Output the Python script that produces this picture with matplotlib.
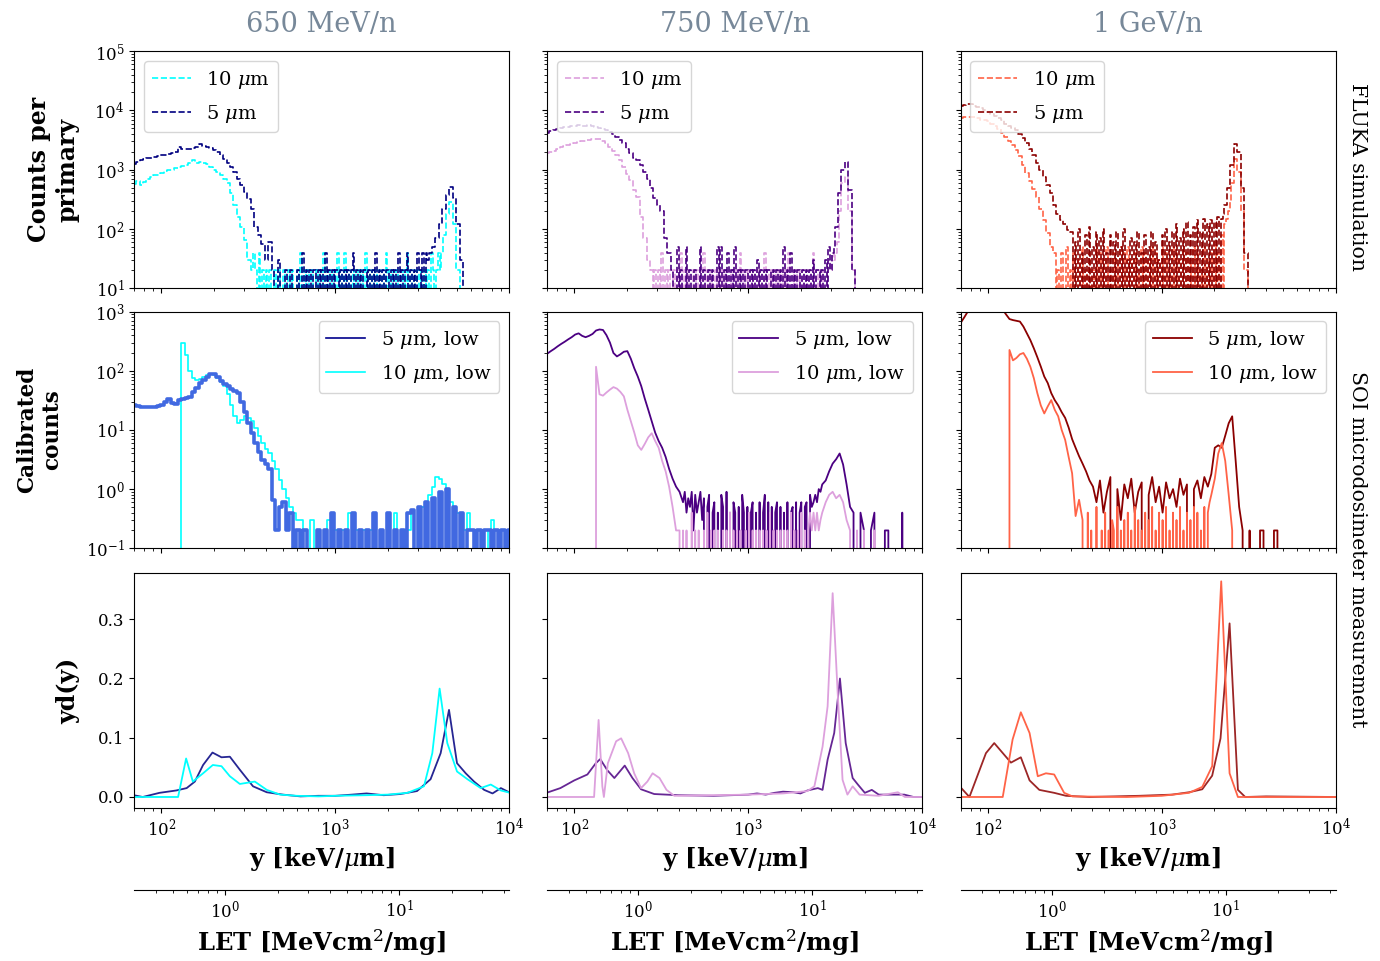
import numpy as np
import matplotlib
matplotlib.use('Agg')
import matplotlib.pyplot as plt
from matplotlib.lines import Line2D

plt.rcParams['font.family'] = 'DejaVu Serif'
plt.rcParams['mathtext.fontset'] = 'dejavuserif'

# histogram bins: log10 spacing, first bin centre at 70 keV/um
# coarse bins for the smooth parts, fine bins for the noisy single-count floors
Y0 = 70.0
COARSE = 0.02
FINE = 0.01
KEV_UM_PER_LET = 233.0   # 1 MeVcm2/mg in silicon ~ 233 keV/um

energies = ['650 MeV/n', '750 MeV/n', '1 GeV/n']
col_5um = ['navy', 'indigo', 'darkred']
col_10um = ['cyan', 'plum', 'tomato']

# ---------------- FLUKA simulation (counts per primary) ----------------
fluka_650_10_head = [580, 650, 560, 620, 700, 750, 800, 820, 880, 950,
                     1000, 980, 1050, 1100, 1150, 1200, 1300, 1450, 1300, 1350,
                     1300, 1250, 1100, 1000, 900, 800, 700, 600, 400, 250,
                     160, 110, 65, 30]
fluka_650_10_floor = [20, 40, 20, 0, 40, 0, 20, 0, 20, 0,
                      20, 0, 0, 20, 0, 20, 0, 0, 20, 0,
                      0, 20, 0, 20, 0, 0, 20, 0, 40, 0,
                      20, 0, 20, 0, 20, 0, 0, 20, 0, 20,
                      0, 40, 0, 20, 0, 20, 0, 20, 0, 40,
                      0, 20, 0, 40, 0, 20, 0, 20, 0, 20,
                      0, 20, 0, 20, 0, 40, 0, 20, 0, 20,
                      0, 20, 0, 20, 0, 20, 0, 40, 0, 20,
                      0, 20, 0, 20, 0, 20, 0, 20, 0, 40,
                      0, 20, 0, 20, 0, 20, 0, 20, 0, 20,
                      0, 20, 0, 40, 20, 0, 20, 40, 20, 40]
fluka_650_10_peak = [80, 180, 290, 120, 20, 0]

fluka_650_5_head = [1260, 1350, 1450, 1500, 1550, 1600, 1650, 1700, 1750, 1800,
                    1850, 1900, 1950, 2400, 2200, 2200, 2250, 2300, 2400, 2700,
                    2500, 2400, 2300, 2150, 2000, 1800, 1500, 1300, 1100, 900,
                    700, 550, 420, 320, 220, 110, 80, 55, 30, 60]
fluka_650_5_floor = [20, 0, 0, 30, 0, 0, 0, 20, 0, 0, 20, 0, 0, 0, 20, 0, 0, 40, 0,
                     20, 0, 20, 0, 20, 20, 0, 20, 0, 20,
                     0, 40, 0, 20, 0, 20, 0, 20, 20, 0,
                     20, 0, 20, 0, 20, 0, 20, 40, 0, 20,
                     0, 20, 0, 20, 20, 0, 20, 0, 20, 0,
                     40, 0, 20, 0, 20, 0, 20, 20, 0, 20,
                     0, 20, 0, 40, 0, 20, 0, 20, 40, 0,
                     20, 0, 20, 0, 40, 20, 0, 40, 0, 40,
                     30]
fluka_650_5_peak = [40, 50, 70, 120, 220, 380, 520, 330, 120, 30, 0]

fluka_750_10_head = [1900, 2000, 2100, 2200, 2450, 2500, 2600, 2700, 2800, 2900,
                     3000, 3100, 3200, 3250, 3300, 3250, 3100, 2800, 2450, 2100,
                     1800, 1450, 1100, 850, 670, 450, 350, 160, 70, 30]
fluka_750_10_floor = [20, 0, 20, 0, 20, 0, 40, 0, 20, 0,
                      20, 0, 0, 20, 0, 20, 0, 40, 0, 20,
                      0, 20, 0, 0, 20, 0, 20, 0, 20, 0,
                      40, 0, 20, 0, 20, 0, 0, 20, 0, 20,
                      0, 20, 0, 20, 0, 20, 0, 20, 0, 20,
                      0, 40, 0, 20, 0, 20, 0, 20, 0, 20,
                      0, 20, 0, 20, 0, 40, 0, 20, 0, 20,
                      0, 20, 0, 20, 0, 20, 0, 20, 0, 40,
                      0, 20, 0, 20, 0, 20, 0, 20, 0, 20,
                      0, 20, 0, 40, 0, 20, 0, 20, 0, 20,
                      20, 0, 30, 20, 40, 30, 40, 60]
fluka_750_10_peak = [200, 600, 760, 200, 20, 0]

fluka_750_5_head = [4200, 4400, 4600, 4800, 5000, 5200, 5300, 5400, 5500, 5600,
                    5500, 5400, 5600, 5500, 5300, 5000, 4800, 4600, 4300, 4000,
                    3600, 3200, 2800, 2200, 1900, 1600, 1450, 1200, 900, 700,
                    500, 330, 250, 200, 70, 40]
fluka_750_5_floor = [20, 0, 0, 50, 0, 20, 0, 0, 50, 0,
                     20, 0, 0, 20, 0, 0, 50, 0, 20, 0,
                     0, 20, 0, 20, 0, 0, 50, 0,
                     50, 0, 20, 0, 40, 0, 20, 0, 50, 0,
                     20, 0, 20, 0, 20, 20, 0, 20, 0, 20,
                     0, 30, 0, 20, 0, 20, 0, 20, 20, 0,
                     20, 0, 20, 0, 20, 0, 50, 0, 20, 0,
                     40, 0, 20, 0, 20, 20, 0, 20, 0, 20,
                     0, 20, 0, 30, 0, 20, 20, 0, 20, 0,
                     30, 0, 50, 20, 40, 50]
fluka_750_5_peak = [110, 400, 1000, 1350, 450, 20, 0]

fluka_1gev_10_head = [7400, 7600, 7800, 7800, 7600, 7300, 7000, 6900, 6500, 6000,
                      5400, 4800, 4200, 3600, 3000, 2600, 2150, 1700, 1200, 870,
                      650, 480, 350, 220, 140, 85, 50]
fluka_1gev_10_floor = [40, 0, 20, 0, 40, 0, 0, 50, 0, 20,
                       0, 40, 0, 0, 30, 0, 50, 0, 20, 0,
                       40, 0, 20, 0, 50, 0, 40, 0, 30, 0,
                       50, 0, 20, 0, 40, 0, 30, 0, 50, 0,
                       40, 0, 50, 0, 30, 0, 40, 0, 20, 0,
                       50, 0, 40, 0, 30, 0, 50, 0, 40, 0,
                       30, 0, 50, 0, 40, 0, 20, 0, 50, 0,
                       40, 0, 30, 0, 50, 0, 40, 0, 30, 0,
                       50, 0, 40, 0, 20, 0, 50, 0, 30, 0,
                       40, 0, 60, 0, 40, 0, 80, 0, 120, 150,
                       200, 300]
fluka_1gev_10_peak = [600, 1500, 900, 200, 20, 0]

fluka_1gev_5_head = [11700, 12500, 13000, 12800, 12000, 11500, 11000, 10000, 9500, 8800,
                     8000, 7500, 6800, 6000, 5500, 5000, 4600, 4000, 3400, 2800,
                     2200, 1800, 1300, 1000, 750, 550, 400, 250, 180, 140, 120, 96]
fluka_1gev_5_floor = [90, 0, 60, 0, 100, 0, 40, 0, 80, 0,
                      110, 0, 50, 0, 90, 0, 70, 0, 100, 0,
                      40, 0, 80, 0, 60, 0, 90, 0, 50, 0,
                      100, 0, 30, 0, 70, 0, 60, 0, 90, 0,
                      40, 0, 80, 0, 50, 0, 90, 0, 60, 0,
                      30, 0, 80, 0, 100, 0, 60, 0, 90, 0,
                      120, 0, 70, 0, 100, 0, 130, 0, 80, 0,
                      110, 0, 140, 0, 90, 0, 150, 0, 120, 0,
                      140, 0, 130, 0, 160, 0, 150, 180]
fluka_1gev_5_peak = [250, 500, 1200, 2700, 2000, 500, 40, 0]

# ---------------- SOI microdosimeter (calibrated counts) ----------------
calib_650_5 = [26, 25, 24.5, 24, 24, 24, 24.5, 25, 26, 30,
               34, 29, 27.5, 32, 34, 35, 36, 44, 52, 61,
               70, 80, 88, 90, 78, 66, 60, 55, 50, 46,
               42, 30, 20, 13, 9, 6, 4.2, 3.1, 2.7, 2.2,
               0.66, 0.2, 0.5, 0.6, 0.2,
               0.4, 0, 0.2, 0, 0.2, 0, 0, 0, 0.2, 0, 0.2, 0, 0.4, 0, 0.2, 0, 0.2, 0,
               0.4, 0, 0.2, 0, 0.2, 0, 0.4, 0, 0.2, 0, 0.4, 0, 0.2, 0, 0.2, 0, 0.4,
               0.45, 0, 0.5, 0, 0.6, 0, 0.7, 0, 0.9, 0, 1.0, 0, 0.5, 0, 0.4, 0, 0.2,
               0.2, 0, 0.2, 0, 0.2, 0.2, 0, 0.2, 0, 0.2, 0, 0.2]
calib_650_10 = [0] * 14 + [
               293, 185, 100, 75, 70, 72, 78, 84, 88, 85,
               75, 65, 55, 40, 26, 17, 13, 15, 17, 16,
               14, 11, 8, 6, 4.8, 4, 3, 2.2, 1.4, 1.0,
               0.7, 0.5, 0.4, 0.3, 0.3,
               0.2, 0, 0.3, 0, 0.2, 0, 0.2, 0.3, 0, 0.2, 0, 0.2, 0, 0.4, 0, 0.2, 0,
               0.2, 0, 0.2, 0.4, 0, 0.2, 0, 0.2, 0, 0.4, 0, 0.2, 0, 0.2, 0.4, 0, 0.4,
               0.5, 0.6, 0.8, 1.1, 1.6, 1.5, 1.2, 0.7, 0.6, 0.4, 0.4, 0.3, 0.2, 0.4, 0.2,
               0, 0.2, 0, 0.2, 0, 0.3, 0, 0.2, 0, 0.2, 0.2]

calib_750_5_head = [195, 215, 235, 260, 285, 310, 340, 370, 410, 430,
                    390, 370, 390, 420, 480, 500, 490, 400, 300, 200,
                    175, 190, 210, 215, 160, 110, 80, 55, 34, 22,
                    14, 9, 6.5, 5, 3.5, 2.2, 1.5, 1.1, 0.9]
calib_750_5_floor = [0.6, 0.9, 0.4, 0.7, 0.5, 0.9, 0.2, 0.8, 0.4, 0.6,
                     0.9, 0.3, 0.7, 0, 0.5, 0.8, 0, 0.4, 0.6, 0,
                     0.4, 0, 0.8, 0.5, 0, 0.9, 0, 0.4, 0, 0.6,
                     0.4, 0, 0.5, 0, 0.8, 0.4, 0, 0.5, 0, 0.4,
                     0.6, 0, 0.4, 0, 0.6, 0, 0.4, 0.8, 0, 0.6,
                     0, 0.5, 0, 0.4, 0.6, 0, 0.5, 0, 0.4, 0,
                     0.6, 0, 0.4, 0.5, 0, 0.6, 0, 0.4, 0.6, 0,
                     0.5, 0.6, 0, 0.8, 0.5, 0.6, 0.8, 0.6, 1.0, 0.9]
calib_750_5_tail = [1.2, 1.4, 2.0, 2.7, 3.2, 4.0, 2.6, 1.2, 0.5,
                    0.4, 0, 0.4, 0.2, 0, 0.2, 0.4, 0, 0, 0.2, 0.2, 0, 0, 0, 0.4, 0, 0]

calib_750_10_head = [0] * 14 + [
                     117, 40, 38, 43, 48, 53, 50, 44, 37, 22,
                     14, 9, 5.5, 4.6, 5.8, 7.5, 8.8, 6.5, 5, 3,
                     2, 1.1, 0.5, 0.2]
calib_750_10_floor = [0.2, 0, 0.2, 0, 0.2, 0, 0, 0.4, 0, 0.2,
                      0, 0.2, 0, 0, 0.2, 0, 0.4, 0, 0.2, 0,
                      0.2, 0, 0.2, 0, 0, 0.2, 0, 0.2, 0, 0.4,
                      0, 0.2, 0, 0.2, 0, 0.2, 0, 0, 0.2, 0,
                      0.4, 0, 0.2, 0, 0.2, 0, 0.2, 0, 0.2, 0,
                      0.2, 0, 0.4, 0, 0.2, 0, 0.2, 0, 0.2, 0,
                      0.2, 0, 0.2, 0, 0.4, 0, 0.2, 0, 0.2, 0,
                      0.4, 0, 0.2, 0, 0.2, 0.4, 0.2, 0.4, 0.2, 0.4,
                      0.2, 0.3]
calib_750_10_tail = [0.4, 0.6, 0.8, 0.9, 0.7, 0.8, 0.6, 0.3, 0.2, 0,
                     0.2, 0, 0.2, 0, 0, 0.2, 0, 0]

calib_1gev_5 = [650, 800, 1000, 1200, 1400, 1500, 1500, 1450, 1400, 1300,
                1250, 1150, 1100, 900, 750, 720, 700, 680, 560, 430,
                330, 240, 170, 118, 80, 62, 42, 32, 26, 20,
                16, 11, 7, 5, 3.6, 2.7, 2.0, 1.4, 1.1,
                0.6, 1.4, 0.4, 0.9, 1.6, 0, 1.0, 0.3, 1.2, 0.7,
                1.5, 0.4, 0.9, 1.3, 0, 0.8, 1.6, 0.6, 1.1, 0.4,
                1.3, 0.7, 1.0, 0.5, 1.5, 0.8, 1.2, 0, 1.0, 1.4,
                0.7, 1.6, 1.1, 1.8,
                5, 5.5, 5, 8, 13, 17, 3, 0.5, 0.2, 0,
                0.2, 0, 0, 0.2, 0.2, 0, 0, 0.2, 0.2, 0]

calib_1gev_10_head = [0] * 14 + [
                      225, 150, 165, 190, 200, 160, 117, 75, 42, 26,
                      19, 25, 32, 22, 17, 10, 6.8, 3.5, 1.85, 0.35,
                      0.66, 0.3]
calib_1gev_10_floor = [0, 0.4, 0, 0.2, 0, 0, 0.5, 0, 0, 0.2,
                       0, 0.4, 0, 0.2, 0, 0.3, 0.2, 0, 0.5, 0,
                       0.2, 0, 0.3, 0, 0.4, 0, 0.2, 0, 0.5, 0,
                       0.3, 0, 0.2, 0, 0.4, 0, 0.3, 0, 0.5, 0,
                       0.2, 0, 0.4, 0, 0.3, 0, 0.5, 0, 0.2, 0,
                       0.4, 0, 0.3, 0, 0.5, 0, 0.2, 0, 0.4, 0,
                       0.3, 0, 0.5, 0, 0.4, 0, 0.2, 0, 0.5, 0,
                       0.4, 0.6]
calib_1gev_10_tail = [0.8, 1.5, 4, 6, 3, 0.8, 0.2, 0]

# ---------------- dose distributions yd(y) ----------------
yd_650_5_x = [69.5, 78.3, 97.7, 122, 140, 156, 174, 197, 222, 248, 283, 337, 404, 501,
              631, 800, 1000, 1250, 1514, 1900, 2371, 2951, 3532, 4036, 4508, 5012,
              5623, 6281, 7178, 8017, 8954, 10139]
yd_650_5 = [0.003, 0.0, 0.007, 0.011, 0.015, 0.026, 0.054, 0.075, 0.067, 0.068, 0.046,
            0.018, 0.008, 0.004, 0.001, 0.002, 0.002, 0.004, 0.006, 0.003, 0.005, 0.01,
            0.03, 0.074, 0.147, 0.057, 0.04, 0.026, 0.012, 0.006, 0.015, 0.007]
yd_650_10_x = [69.5, 125, 139, 152, 174, 198, 222, 248, 283, 345, 404, 482, 600, 800,
               1000, 1500, 2000, 2600, 3236, 3614, 3981, 4406, 5012, 5754, 6855, 7834,
               8954, 10139]
yd_650_10 = [0, 0, 0.065, 0.026, 0.04, 0.054, 0.052, 0.035, 0.022, 0.026, 0.012, 0.004,
             0.002, 0.001, 0.002, 0.003, 0.004, 0.007, 0.018, 0.074, 0.183, 0.091, 0.043,
             0.03, 0.015, 0.021, 0.011, 0.007]

yd_750_5_x = [70.8, 83.2, 100, 119, 133, 141, 155, 170, 195, 216, 242, 288, 398, 631,
              794, 1000, 1122, 1259, 1413, 1585, 1820, 1995, 2188, 2512, 2673, 2858, 3119,
              3365, 3631, 3981, 4266, 4677, 5129, 5623, 7889, 8913, 10139]
yd_750_5 = [0.008, 0.015, 0.028, 0.038, 0.057, 0.064, 0.045, 0.032, 0.053, 0.032, 0.013,
            0.005, 0.003, 0.002, 0.003, 0.004, 0.006, 0.004, 0.007, 0.009, 0.008, 0.006,
            0.011, 0.015, 0.012, 0.063, 0.108, 0.20, 0.091, 0.032, 0.021, 0.007, 0.012,
            0.004, 0.004, 0.0, 0.0]
yd_750_10_x = [70, 130, 138, 145, 148, 156, 174, 186, 204, 221, 242, 263, 282, 309, 339,
               376, 631, 1000, 1585, 2188, 2399, 2673, 2858, 3055, 3266, 3483, 3715, 3981,
               4365, 5623, 7244, 7943, 10139]
yd_750_10 = [0, 0, 0.13, 0.018, 0, 0.057, 0.094, 0.099, 0.074, 0.04, 0.015, 0.026, 0.04,
             0.032, 0.012, 0.002, 0.003, 0.004, 0.006, 0.01, 0.018, 0.085, 0.153, 0.344,
             0.175, 0.029, 0.004, 0.018, 0.004, 0.002, 0.008, 0, 0]

yd_1gev_5_x = [69.5, 78.5, 97.7, 109, 136, 155, 174, 198, 241, 282, 383, 741, 1148, 1436,
               1710, 1950, 2178, 2455, 2742, 3020, 3981, 10139]
yd_1gev_5 = [0.017, 0.0, 0.074, 0.091, 0.058, 0.067, 0.028, 0.012, 0.007, 0.002, 0.0,
             0.002, 0.004, 0.008, 0.013, 0.036, 0.099, 0.293, 0.012, 0.0, 0.001, 0.0]
yd_1gev_10_x = [69.5, 122, 139, 155, 174, 194, 216, 241, 275, 307, 631, 1000, 1436, 1710,
                1950, 2198, 2455, 2742, 10139]
yd_1gev_10 = [0, 0, 0.097, 0.143, 0.108, 0.035, 0.04, 0.038, 0.007, 0.001, 0.0, 0.002,
              0.007, 0.017, 0.052, 0.364, 0.04, 0, 0]


def binned(*parts):
    """Lay consecutive (values, bin step) parts on the log grid starting at Y0."""
    xs, ys = [], []
    pos = np.log10(Y0)
    for vals, step in parts:
        xs.append(10 ** (pos + step * np.arange(len(vals))))
        ys.append(np.asarray(vals, dtype=float))
        pos += step * len(vals)
    return np.concatenate(xs), np.concatenate(ys)


def fluka_series(head, floor, peak):
    return binned((head, COARSE), (floor, FINE), (peak, COARSE))


fluka = [
    (fluka_series(fluka_650_10_head, fluka_650_10_floor, fluka_650_10_peak),
     fluka_series(fluka_650_5_head, fluka_650_5_floor, fluka_650_5_peak)),
    (fluka_series(fluka_750_10_head, fluka_750_10_floor, fluka_750_10_peak),
     fluka_series(fluka_750_5_head, fluka_750_5_floor, fluka_750_5_peak)),
    (fluka_series(fluka_1gev_10_head, fluka_1gev_10_floor, fluka_1gev_10_peak),
     fluka_series(fluka_1gev_5_head, fluka_1gev_5_floor, fluka_1gev_5_peak)),
]
calib = [
    (binned((calib_650_5, COARSE)), binned((calib_650_10, COARSE))),
    (fluka_series(calib_750_5_head, calib_750_5_floor, calib_750_5_tail),
     fluka_series(calib_750_10_head, calib_750_10_floor, calib_750_10_tail)),
    (binned((calib_1gev_5, COARSE)),
     fluka_series(calib_1gev_10_head, calib_1gev_10_floor, calib_1gev_10_tail)),
]
yd = [((yd_650_5_x, yd_650_5), (yd_650_10_x, yd_650_10)),
      ((yd_750_5_x, yd_750_5), (yd_750_10_x, yd_750_10)),
      ((yd_1gev_5_x, yd_1gev_5), (yd_1gev_10_x, yd_1gev_10))]

fig = plt.figure(figsize=(13.8, 9.61), dpi=100)
lefts = [0.0973, 0.3966, 0.6962]
bottoms = [0.7000, 0.4295, 0.1592]
heights = [0.2469, 0.2462, 0.2445]
width = 0.2717

axes = [[None] * 3 for _ in range(3)]
for r in range(3):
    for c in range(3):
        sx = axes[0][0] if (r, c) != (0, 0) else None
        sy = axes[r][0] if c > 0 else None
        axes[r][c] = fig.add_axes([lefts[c], bottoms[r], width, heights[r]], sharex=sx, sharey=sy)

leg_kw = dict(fontsize=14, labelspacing=0.62)
for c in range(3):
    # row 1: FLUKA
    ax = axes[0][c]
    (x10, v10), (x5, v5) = fluka[c]
    ax.plot(x10, v10, '--', color=col_10um[c], lw=1.2, drawstyle='steps-mid', label=r'10 $\mu$m')
    ax.plot(x5, v5, '--', color=col_5um[c], lw=1.2, drawstyle='steps-mid', label=r'5 $\mu$m')
    ax.set_yscale('log')
    ax.set_ylim(10, 1e5)
    ax.legend(loc='upper left', **leg_kw)

    # row 2: calibrated measurement
    ax = axes[1][c]
    (x5, v5), (x10, v10) = calib[c]
    if c == 0:
        l10, = ax.plot(x10, v10, color=col_10um[c], lw=1.2, drawstyle='steps-mid')
        ax.plot(x5, v5, color='royalblue', lw=2.6, drawstyle='steps-mid')
        handles = [Line2D([], [], color='darkblue', lw=1.2), l10]
    else:
        l5, = ax.plot(x5, v5, color=col_5um[c], lw=1.3)
        l10, = ax.plot(x10, v10, color=col_10um[c], lw=1.3)
        handles = [l5, l10]
    ax.set_yscale('log')
    ax.set_ylim(0.1, 1000)
    ax.legend(handles, [r'5 $\mu$m, low', r'10 $\mu$m, low'], loc='upper right', **leg_kw)

    # row 3: yd(y)
    ax = axes[2][c]
    (x5, y5), (x10, y10) = yd[c]
    ax.plot(x5, y5, color=col_5um[c], lw=1.3, alpha=0.85)
    ax.plot(x10, y10, color=col_10um[c], lw=1.3)
    ax.set_ylim(-0.0186, 0.378)
    ax.set_yticks([0.0, 0.1, 0.2, 0.3])
    ax.set_xlabel(r'y [keV/$\mu$m]', fontsize=17.5, fontweight='bold')

    sec = ax.secondary_xaxis(-0.349, functions=(lambda y: y / KEV_UM_PER_LET,
                                                 lambda l: l * KEV_UM_PER_LET))
    sec.set_ticks([1, 10])
    sec.set_xlabel(r'LET [MeVcm$^2$/mg]', fontsize=17.5, fontweight='bold')
    sec.tick_params(labelsize=12)

    fig.text(lefts[c] + width / 2, 1 - 31.7 / 961, energies[c], ha='center', va='baseline',
             fontsize=19.5, color='lightslategray')

axes[0][0].set_xscale('log')
axes[0][0].set_xlim(70, 1e4)

for r in range(3):
    for c in range(3):
        ax = axes[r][c]
        ax.tick_params(labelsize=12)
        if r < 2:
            ax.tick_params(labelbottom=False)
        if c > 0:
            ax.tick_params(labelleft=False)

axes[0][0].set_ylabel('Counts per\nprimary', fontsize=17, fontweight='bold')
axes[1][0].set_ylabel('Calibrated\ncounts', fontsize=15.5, fontweight='bold')
axes[2][0].set_ylabel('yd(y)', fontsize=17, fontweight='bold')
axes[0][0].yaxis.set_label_coords(-0.147, 0.5)
axes[1][0].yaxis.set_label_coords(-0.190, 0.5)
axes[2][0].yaxis.set_label_coords(-0.145, 0.5)

fig.text(1358 / 1380, 1 - 176.7 / 961, 'FLUKA simulation', rotation=270,
         ha='center', va='center', fontsize=14.7)
fig.text(1358 / 1380, 1 - 549 / 961, 'SOI microdosimeter measurement', rotation=270,
         ha='center', va='center', fontsize=14.7)

fig.savefig('out.png', dpi=100)
